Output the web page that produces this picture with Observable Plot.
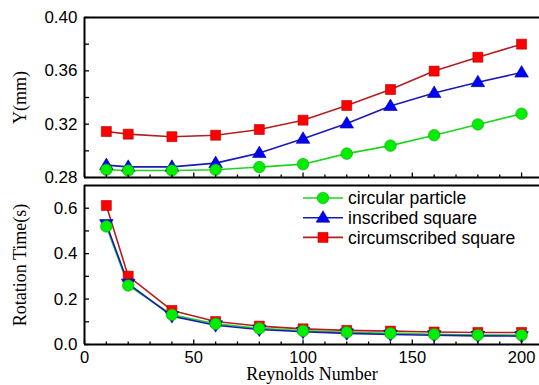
<!DOCTYPE html>
<html>
<head>
<meta charset="utf-8">
<script src="https://cdn.jsdelivr.net/npm/d3@7"></script>
<script src="https://cdn.jsdelivr.net/npm/@observablehq/plot@0.6"></script>
<style>
  body { margin: 0; background: #fff; }
  #chart { position: relative; width: 539px; height: 385px; overflow: hidden; background: #fff; }
  #chart svg { display: block; }
</style>
</head>
<body>
<div id="chart"></div>
<script>
// ---- data ----
const reynolds = [10, 20, 40, 60, 80, 100, 120, 140, 160, 180, 200];
const seriesNames = ["circular particle", "inscribed square", "circumscribed square"];
// top panel: Y (mm)
const yCircular      = [0.2858, 0.2853, 0.2853, 0.2858, 0.2878, 0.2900, 0.2979, 0.3039, 0.3117, 0.3198, 0.3278];
const yInscribed     = [0.2893, 0.2880, 0.2880, 0.2908, 0.2983, 0.3090, 0.3205, 0.3336, 0.3434, 0.3515, 0.3587];
const yCircumscribed = [0.3145, 0.3125, 0.3106, 0.3117, 0.3160, 0.3230, 0.3340, 0.3460, 0.3598, 0.3702, 0.3800];
// bottom panel: Rotation Time (s)
const tCircular      = [0.520, 0.260, 0.131, 0.091, 0.071, 0.060, 0.054, 0.049, 0.045, 0.042, 0.041];
const tInscribed     = [0.530, 0.268, 0.125, 0.085, 0.066, 0.056, 0.049, 0.044, 0.041, 0.038, 0.037];
const tCircumscribed = [0.612, 0.301, 0.150, 0.101, 0.081, 0.069, 0.062, 0.059, 0.055, 0.053, 0.053];
// ticks
const xMajor = [0, 50, 100, 150, 200];
const xMinor = [10, 20, 30, 40, 60, 70, 80, 90, 110, 120, 130, 140, 160, 170, 180, 190];
const yTopMajor = [0.28, 0.32, 0.36, 0.40];
const yTopMinor = [0.30, 0.34, 0.38];
const yBotMajor = [0.0, 0.2, 0.4, 0.6];
const yBotMinor = [0.1, 0.3, 0.5];

// ---- styles ----
const fillColors = ["#00ee00", "#0000ff", "#ff0000"];
const strokeColors = ["#1ed41e", "#1a1ab4", "#b41e1e"];
const edgeColors = ["#12a012", "#000090", "#b00000"];
const sans = "'Liberation Sans', Arial, sans-serif";
const serif = "'Liberation Serif', 'Times New Roman', serif";

const circleSym = {draw(c) { c.moveTo(5.8, 0); c.arc(0, 0, 5.8, 0, 2 * Math.PI); c.closePath(); }};
const squareSym = {draw(c) { c.rect(-5, -5, 10, 10); }};
const triUpSym = {draw(c) { c.moveTo(0, -7); c.lineTo(6.8, 4.5); c.lineTo(-6.8, 4.5); c.closePath(); }};
const triDownSym = {draw(c) { c.moveTo(0, 7); c.lineTo(6.8, -4.5); c.lineTo(-6.8, -4.5); c.closePath(); }};
const tickUp = len => ({draw(c) { c.moveTo(0, 0); c.lineTo(0, -len); }});
const tickRight = len => ({draw(c) { c.moveTo(0, 0); c.lineTo(len, 0); }});

function rows(vals) {
  return [
    reynolds.map((r, i) => ({x: r, y: vals[0][i], s: 0})),
    reynolds.map((r, i) => ({x: r, y: vals[1][i], s: 1})),
    reynolds.map((r, i) => ({x: r, y: vals[2][i], s: 2}))
  ];
}

const xDomain = [0, 208.2];

function panel({height, marginTop, marginBottom, yDomain, data, yMajor, yMinor, yDigits, yLabel, showXLabels, symbols}) {
  const marks = [];
  data.forEach((d, i) => marks.push(Plot.line(d, {x: "x", y: "y", stroke: strokeColors[i], strokeWidth: 1.6})));
  [2, 1, 0].forEach(i => marks.push(Plot.dot(data[i], {x: "x", y: "y", symbol: symbols[i], fill: fillColors[i], stroke: edgeColors[i], strokeWidth: 0.6, r: 5})));
  marks.push(Plot.ruleX([xDomain[0]], {stroke: "#000", strokeWidth: 2}));
  marks.push(Plot.ruleY([yDomain[0]], {stroke: "#000", strokeWidth: 2}));
  marks.push(Plot.ruleY([yDomain[1]], {stroke: "#000", strokeWidth: 2}));
  marks.push(Plot.dot(xMajor, {x: d => d, frameAnchor: "bottom", symbol: tickUp(5), stroke: "#000", fill: "none", strokeWidth: 1.3}));
  marks.push(Plot.dot(xMinor, {x: d => d, frameAnchor: "bottom", symbol: tickUp(3), stroke: "#000", fill: "none", strokeWidth: 1.3}));
  marks.push(Plot.dot(yMajor, {y: d => d, frameAnchor: "left", symbol: tickRight(4.5), stroke: "#000", fill: "none", strokeWidth: 1.3}));
  marks.push(Plot.dot(yMinor, {y: d => d, frameAnchor: "left", symbol: tickRight(4.5), stroke: "#000", fill: "none", strokeWidth: 1.3}));
  marks.push(Plot.text(yMajor, {y: d => d, frameAnchor: "left", dx: -7, textAnchor: "end", lineAnchor: "middle", text: d => d.toFixed(yDigits), fontSize: 17, fontFamily: sans, fill: "#000"}));
  if (showXLabels) {
    marks.push(Plot.text(xMajor, {x: d => d, frameAnchor: "bottom", dy: 13, textAnchor: "middle", lineAnchor: "middle", text: d => String(d), fontSize: 16.5, fontFamily: sans, fill: "#000"}));
    marks.push(Plot.text(["Reynolds Number"], {frameAnchor: "bottom", dy: 30, textAnchor: "middle", lineAnchor: "middle", text: d => d, fontSize: 18, fontFamily: serif, fill: "#000"}));
  }
  marks.push(Plot.text([yLabel], {frameAnchor: "left", dx: -64, rotate: -90, textAnchor: "middle", lineAnchor: "middle", text: d => d, fontSize: 18, fontFamily: serif, fill: "#000"}));
  return Plot.plot({
    width: 539, height, marginTop, marginBottom, marginLeft: 84, marginRight: 0,
    x: {domain: xDomain, axis: null},
    y: {domain: yDomain, axis: null},
    style: {background: "#fff", overflow: "visible"},
    marks
  });
}

const topPanel = panel({
  height: 180, marginTop: 17, marginBottom: 3,
  yDomain: [0.28, 0.40], data: rows([yCircular, yInscribed, yCircumscribed]),
  yMajor: yTopMajor, yMinor: yTopMinor, yDigits: 2, yLabel: "Y(mm)", showXLabels: false,
  symbols: [circleSym, triUpSym, squareSym]
});
const bottomPanel = panel({
  height: 205, marginTop: 5, marginBottom: 41,
  yDomain: [0, 0.7], data: rows([tCircular, tInscribed, tCircumscribed]),
  yMajor: yBotMajor, yMinor: yBotMinor, yDigits: 1, yLabel: "Rotation Time(s)", showXLabels: true,
  symbols: [circleSym, triDownSym, squareSym]
});

const legendSyms = [circleSym, triUpSym, squareSym];
const lg = d3.select(bottomPanel).append("g").attr("class", "legend");
seriesNames.forEach((name, i) => {
  const yy = 18 + i * 19.7;
  const g = lg.append("g").attr("transform", `translate(0,${yy})`);
  g.append("line").attr("x1", 303).attr("x2", 343).attr("y1", 0).attr("y2", 0)
    .attr("stroke", strokeColors[i]).attr("stroke-width", 1.6);
  const p = d3.path(); legendSyms[i].draw(p, 0);
  g.append("path").attr("d", p.toString()).attr("transform", "translate(323,0)")
    .attr("fill", fillColors[i]).attr("stroke", edgeColors[i]).attr("stroke-width", 0.6);
  g.append("text").attr("x", 348).attr("y", 0).attr("dy", "0.35em")
    .attr("text-anchor", "start")
    .attr("font-family", sans).attr("font-size", 17.6).attr("fill", "#000").text(name);
});

const chart = document.getElementById("chart");
chart.appendChild(topPanel);
chart.appendChild(bottomPanel);
</script>
</body>
</html>
